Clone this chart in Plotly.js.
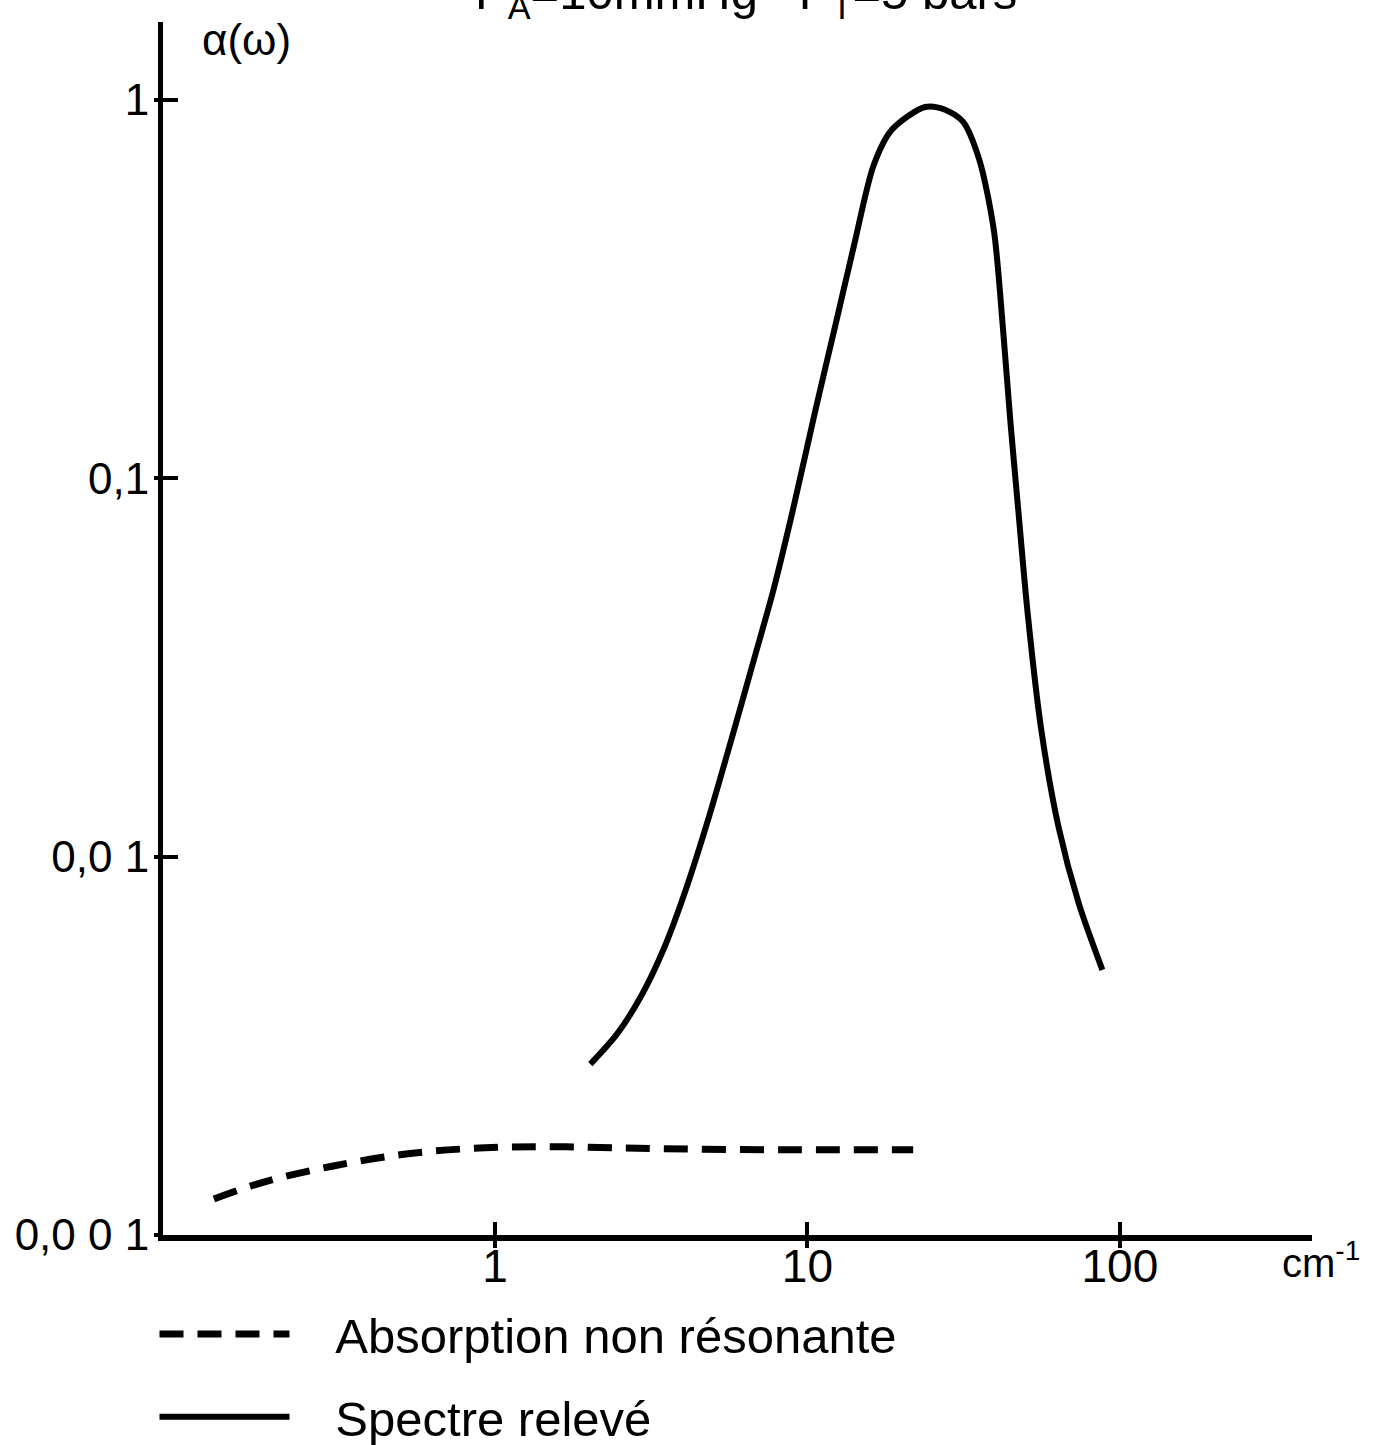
<!DOCTYPE html>
<html>
<head>
<meta charset="utf-8">
<script src="https://cdn.plot.ly/plotly-3.0.1.min.js"></script>
<style>html,body{margin:0;padding:0;background:#fff;}</style>
</head>
<body>
<div id="chart" style="width:1377px;height:1445px;"></div>
<script>
// Measured spectrum (solid line)
const spectreX = [2.02, 2.46, 2.94, 3.47, 4.07, 4.80, 5.70, 6.73, 7.78, 8.98, 10.6, 12.4, 14.1, 16.3, 18.6, 23.8, 27.7, 31.5, 35.5, 39.5, 42.3, 44.6, 47.3, 50.7, 56.0, 63.6, 73.9, 87.9];
const spectreY = [0.00283, 0.0034, 0.00429, 0.00571, 0.00813, 0.01245, 0.0203, 0.033, 0.0506, 0.0823, 0.151, 0.262, 0.413, 0.673, 0.833, 0.958, 0.941, 0.875, 0.694, 0.453, 0.246, 0.142, 0.0823, 0.0439, 0.0217, 0.012, 0.00751, 0.00502];
// Non-resonant absorption (dashed line)
const nonResX = [0.126, 0.182, 0.301, 0.527, 0.93, 1.68, 3.40, 8.98, 21.8];
const nonResY = [0.001245, 0.00138, 0.00152, 0.00164, 0.0017, 0.00171, 0.00169, 0.00168, 0.00168];
// Axis ticks
const xTickVals = [1, 10, 100];
const xTickText = ["1", "10", "100"];
const yTickVals = [0.001, 0.01, 0.1, 1];
const yTickText = ["0,0 0 1", "0,0 1", "0,1", "1"];
const seriesNames = ["Absorption non résonante", "Spectre relevé"];

const FONT = "Liberation Sans, Arial, sans-serif";
const PAD = "\u00a0\u00a0\u00a0";

const traces = [
  {
    x: nonResX, y: nonResY, type: "scatter", mode: "lines", name: PAD + seriesNames[0],
    line: {color: "#000", width: 7, dash: "24px,14px", shape: "spline", smoothing: 1},
    legendgroup: "a", hoverinfo: "skip"
  },
  {
    x: spectreX, y: spectreY, type: "scatter", mode: "lines", name: PAD + seriesNames[1],
    line: {color: "#000", width: 6, shape: "spline", smoothing: 0.8},
    legendgroup: "b", hoverinfo: "skip"
  },
  {
    x: [], y: [], xaxis: "x2", yaxis: "y2", type: "scatter", mode: "lines",
    showlegend: false, hoverinfo: "skip"
  }
];

const xr = [Math.log10(0.0866), Math.log10(412)];
const yr = [-3, 0.206];

const layout = {
  width: 1377, height: 1445,
  margin: {l: 163, r: 65, t: 22, b: 210, autoexpand: false},
  paper_bgcolor: "#fff", plot_bgcolor: "#fff",
  showlegend: true,
  legend: {
    x: -0.0074, y: -0.050, xanchor: "left", yanchor: "top",
    orientation: "v", traceorder: "grouped", tracegroupgap: 16,
    itemwidth: 130,
    font: {family: FONT, size: 49, color: "#000"},
    bgcolor: "rgba(0,0,0,0)"
  },
  xaxis: {
    type: "log", range: xr, tickvals: xTickVals, ticktext: xTickText,
    ticks: "inside", ticklen: 13, tickwidth: 4, tickcolor: "#000",
    showline: true, linewidth: 6, linecolor: "#000",
    showgrid: false, zeroline: false, ticklabelstandoff: -14,
    tickfont: {family: FONT, size: 46, color: "#000"}
  },
  yaxis: {
    type: "log", range: yr, tickvals: yTickVals, ticktext: yTickText,
    ticks: "inside", ticklen: 15, tickwidth: 4, tickcolor: "#000",
    showline: true, linewidth: 5, linecolor: "#000",
    showgrid: false, zeroline: false,
    tickfont: {family: FONT, size: 44, color: "#000"}
  },
  xaxis2: {
    type: "log", range: xr, tickvals: xTickVals, overlaying: "x", anchor: "y2",
    ticks: "outside", ticklen: 12, tickwidth: 4, tickcolor: "#000",
    showticklabels: false, showline: false, showgrid: false, zeroline: false
  },
  yaxis2: {
    type: "log", range: yr, tickvals: yTickVals, overlaying: "y", anchor: "x2",
    ticks: "outside", ticklen: 8, tickwidth: 4, tickcolor: "#000",
    showticklabels: false, showline: false, showgrid: false, zeroline: false
  },
  annotations: [
    {
      text: "α(ω)", xref: "paper", yref: "paper", x: 0.032, y: 1.0,
      xanchor: "left", yanchor: "top", yshift: 9, showarrow: false,
      font: {family: FONT, size: 44, color: "#000"}
    },
    {
      text: "cm<sup>-1</sup>", xref: "paper", yref: "paper", x: 0.972, y: 0,
      xanchor: "left", yanchor: "top", yshift: 2, showarrow: false,
      font: {family: FONT, size: 40, color: "#000"}
    },
    {
      text: "P<sub>A</sub>=10mmHg   P<sub>T</sub>=5 bars", xref: "paper", yref: "paper",
      x: 0.507, y: 1.0, xanchor: "center", yanchor: "bottom", yshift: -6, showarrow: false,
      font: {family: FONT, size: 49, color: "#000"}
    }
  ]
};

Plotly.newPlot("chart", traces, layout, {displayModeBar: false, staticPlot: true});
</script>
</body>
</html>
